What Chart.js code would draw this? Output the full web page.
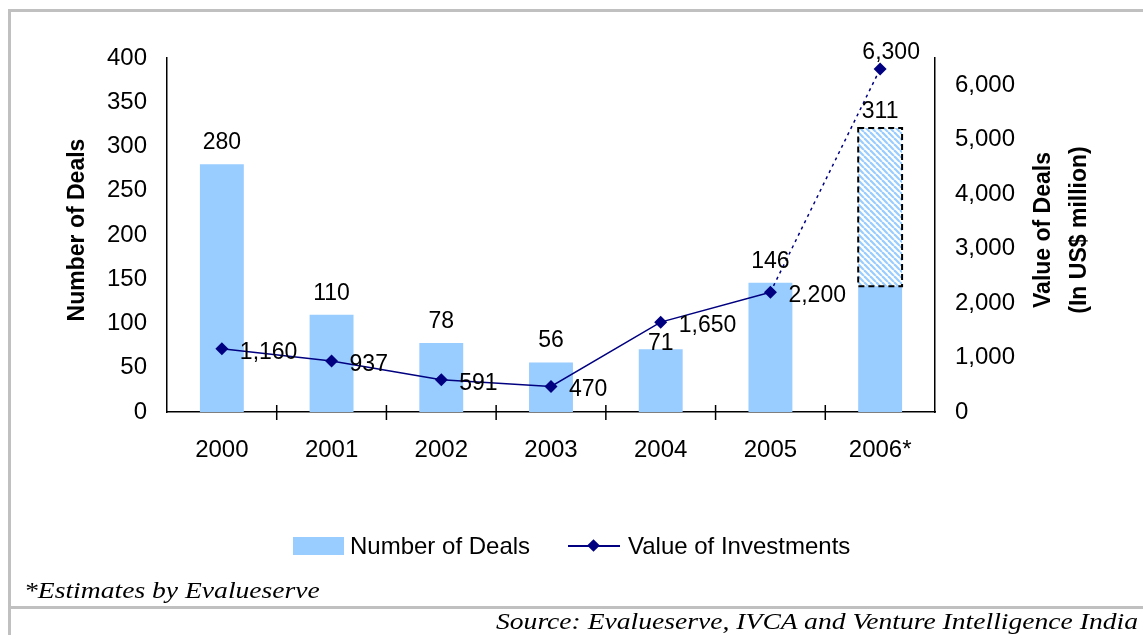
<!DOCTYPE html>
<html>
<head>
<meta charset="utf-8">
<script src="https://cdn.jsdelivr.net/npm/chart.js@4.4.1/dist/chart.umd.min.js"></script>
<style>
  html, body { margin: 0; padding: 0; background: #fff; }
  #wrap { position: relative; width: 1143px; height: 635px; overflow: hidden; }
  #chart { position: absolute; left: 0; top: 0; }
  .rule { position: absolute; background: #c0c0c0; }
  .legend { position: absolute; top: 531px; left: 293px; height: 30px; font: 24px 'Liberation Sans', Arial, sans-serif; color: #000; white-space: nowrap; }
  .legend span { position: absolute; top: 0; line-height: 30px; }
  .note { position: absolute; font: italic 23px 'Liberation Serif', 'Times New Roman', serif; color: #000; white-space: nowrap; transform-origin: 0 0; transform: scaleX(1.2); }
</style>
</head>
<body>
<div id="wrap">
  <canvas id="chart" width="1143" height="635"></canvas>
  <div class="rule" style="left:8px;top:9px;width:1135px;height:3px"></div>
  <div class="rule" style="left:8px;top:9px;width:3px;height:626px"></div>
  <div class="rule" style="left:8px;top:606px;width:1135px;height:3px"></div>
  <div class="legend">
    <span style="left:0;top:6px;width:51px;height:18px;background:#99ccff"></span>
    <span style="left:57px">Number of Deals</span>
    <span style="left:275px;top:14px;width:52px;height:2px;background:#000080"></span>
    <span style="left:296px;top:10px;width:9px;height:9px;background:#000080;transform:rotate(45deg)"></span>
    <span style="left:335px">Value of Investments</span>
  </div>
  <div class="note" style="left:24px;top:578px">*Estimates by Evalueserve</div>
  <div class="note" style="left:496px;top:609px">Source: Evalueserve, IVCA and Venture Intelligence India</div>
</div>
<script>
  const years = ['2000', '2001', '2002', '2003', '2004', '2005', '2006*'];
  const deals = [280, 110, 78, 56, 71, 146, 142];
  const estimatedDeals = [0, 0, 0, 0, 0, 0, 179];
  const dealLabels = [280, 110, 78, 56, 71, 146, 311];
  const investments = [1160, 937, 591, 470, 1650, 2200, 6300];
  const leftTicks = { min: 0, max: 400, step: 50 };
  const rightTickValues = [0, 1000, 2000, 3000, 4000, 5000, 6000];
  const rightMax = 6500;

  const FONT = "'Liberation Sans', Arial, sans-serif";
  const BLUE = '#99ccff';
  const NAVY = '#000080';

  // hatch for the estimated part of 2006
  function makeHatch() {
    const c = document.createElement('canvas');
    c.width = 6; c.height = 6;
    const g = c.getContext('2d');
    g.fillStyle = '#fff';
    g.fillRect(0, 0, 6, 6);
    g.strokeStyle = BLUE;
    g.lineWidth = 2.2;
    [-6, 0, 6].forEach(k => {
      g.beginPath(); g.moveTo(k, 0); g.lineTo(k + 6, 6); g.stroke();
    });
    return g.createPattern(c, 'repeat');
  }

  const fmt = n => n.toLocaleString('en-US');

  const decor = {
    id: 'decor',
    afterDatasetsDraw(chart) {
      const ctx = chart.ctx;
      const area = chart.chartArea;
      const x = chart.scales.x;
      const barMeta = chart.getDatasetMeta(0);
      const estMeta = chart.getDatasetMeta(1);
      const lineMeta = chart.getDatasetMeta(2);
      ctx.save();

      // dashed outline of the estimate
      estMeta.data.forEach((el, i) => {
        if (!estimatedDeals[i]) return;
        ctx.strokeStyle = '#000';
        ctx.lineWidth = 2;
        ctx.setLineDash([6, 4]);
        ctx.strokeRect(el.x - el.width / 2, el.y, el.width, el.base - el.y);
      });
      ctx.setLineDash([]);

      // category tick marks crossing the x axis
      const step = x.getPixelForValue(1) - x.getPixelForValue(0);
      ctx.strokeStyle = '#000';
      ctx.lineWidth = 1.5;
      for (let i = 1; i < years.length; i++) {
        const px = x.getPixelForValue(0) + (i - 0.5) * step;
        ctx.beginPath(); ctx.moveTo(px, area.bottom - 7); ctx.lineTo(px, area.bottom + 8); ctx.stroke();
      }

      ctx.fillStyle = '#000';
      ctx.font = '23px ' + FONT;

      // bar labels
      ctx.textAlign = 'center';
      ctx.textBaseline = 'alphabetic';
      barMeta.data.forEach((el, i) => {
        let top = el.y;
        let gap = 15;
        if (estimatedDeals[i]) { top = estMeta.data[i].y; gap = 10; }
        if (i === 4) gap = -1;
        ctx.fillText(fmt(dealLabels[i]), el.x, top - gap);
      });

      // line labels
      lineMeta.data.forEach((pt, i) => {
        if (i === investments.length - 1) {
          ctx.textAlign = 'center';
          ctx.fillText(fmt(investments[i]), pt.x + 11, pt.y - 10);
        } else {
          ctx.textAlign = 'left';
          ctx.fillText(fmt(investments[i]), pt.x + 18, pt.y + 10);
        }
      });

      // axis titles
      ctx.font = 'bold 23px ' + FONT;
      ctx.textAlign = 'center';
      ctx.textBaseline = 'middle';
      const cy = (area.top + area.bottom) / 2 - 5;
      ctx.save();
      ctx.translate(78, cy); ctx.rotate(-Math.PI / 2);
      ctx.fillText('Number of Deals', 0, 0);
      ctx.restore();
      ctx.save();
      ctx.translate(1044, cy); ctx.rotate(-Math.PI / 2);
      ctx.fillText('Value of Deals', 0, 0);
      ctx.fillText('(In US$ million)', 0, 36);
      ctx.restore();

      ctx.restore();
    }
  };

  const tickFont = { family: FONT, size: 24 };

  new Chart(document.getElementById('chart'), {
    data: {
      labels: years,
      datasets: [
        {
          type: 'bar', label: 'Number of Deals', data: deals,
          backgroundColor: BLUE, yAxisID: 'y', order: 1,
          barPercentage: 0.4, categoryPercentage: 1
        },
        {
          type: 'bar', label: 'Estimate', data: estimatedDeals,
          backgroundColor: makeHatch(), yAxisID: 'y', order: 2,
          barPercentage: 0.4, categoryPercentage: 1
        },
        {
          type: 'line', label: 'Value of Investments', data: investments,
          yAxisID: 'y1', order: 0,
          borderColor: NAVY, borderWidth: 1.5, tension: 0,
          pointStyle: 'rectRot', pointRadius: 6.5, pointHoverRadius: 6.5,
          pointBackgroundColor: NAVY, pointBorderColor: NAVY, pointBorderWidth: 0,
          segment: { borderDash: c => c.p1DataIndex === investments.length - 1 ? [3, 4] : undefined }
        }
      ]
    },
    options: {
      responsive: false,
      animation: false,
      layout: { padding: { top: 58, left: 0, right: 0, bottom: 0 } },
      plugins: { legend: { display: false }, tooltip: { enabled: false } },
      scales: {
        x: {
          stacked: true,
          offset: true,
          grid: { display: false },
          border: { color: '#000', width: 1.5 },
          ticks: { font: tickFont, color: '#000', padding: 16, maxRotation: 0 },
          afterFit: s => { s.height = 223; }
        },
        y: {
          stacked: true,
          position: 'left',
          min: leftTicks.min, max: leftTicks.max,
          grid: { display: false, drawTicks: false },
          border: { color: '#000', width: 1.5 },
          ticks: { stepSize: leftTicks.step, font: tickFont, color: '#000', padding: 20 },
          afterFit: s => { s.width = 167; }
        },
        y1: {
          position: 'right',
          min: 0, max: rightMax,
          grid: { display: false, drawTicks: false },
          border: { color: '#000', width: 1.5 },
          ticks: { font: tickFont, color: '#000', padding: 20, autoSkip: false, callback: v => fmt(v) },
          afterBuildTicks: s => { s.ticks = rightTickValues.map(v => ({ value: v })); },
          afterFit: s => { s.width = 208; }
        }
      }
    },
    plugins: [decor]
  });
</script>
</body>
</html>
